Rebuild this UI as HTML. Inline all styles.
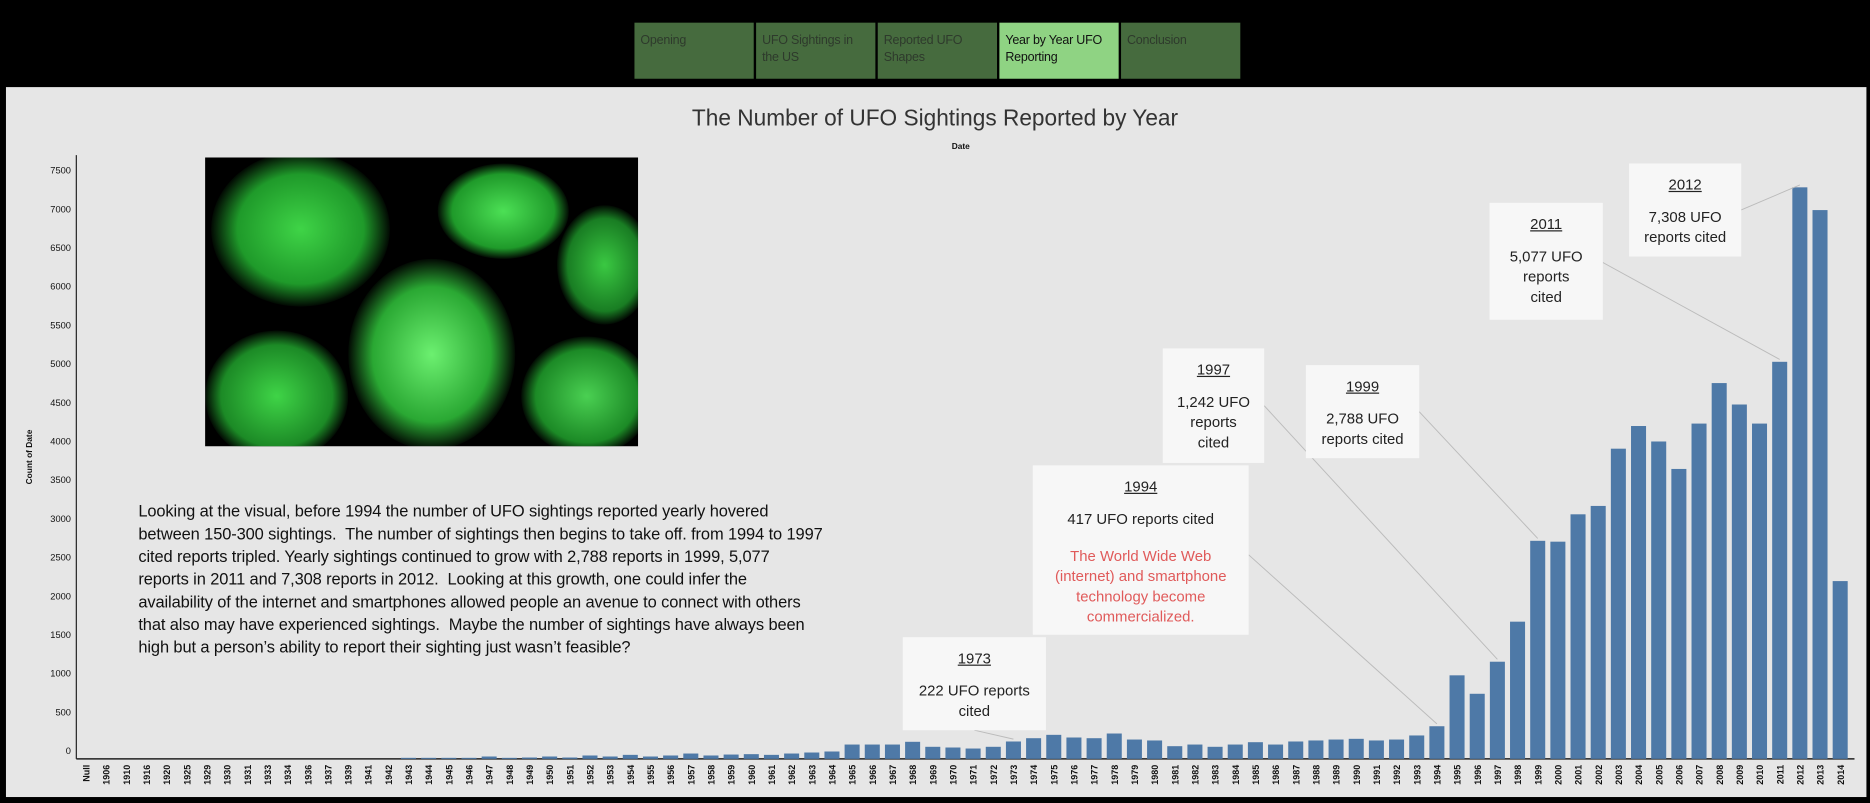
<!DOCTYPE html>
<html><head><meta charset="utf-8">
<style>
html,body{margin:0;padding:0;background:#000;width:1870px;height:803px;overflow:hidden;font-family:"Liberation Sans",sans-serif;}
#wrap{position:absolute;left:0;top:0;width:1568px;height:673px;transform:scale(1.19260,1.19316);transform-origin:0 0;}
.btn{position:absolute;top:19px;height:47px;width:100px;background:#466b3e;color:#2e3a2c;font-size:10.5px;line-height:14px;padding:8px 5px;box-sizing:border-box;letter-spacing:-0.2px;}
.btn.active{background:#8fd383;color:#111;}
#panel{position:absolute;left:5px;top:73px;width:1560px;height:595px;background:#e6e6e6;}
.box{position:absolute;background:#f7f7f7;text-align:center;font-size:12.5px;color:#222;line-height:17px;}
.box u{display:inline-block;margin-top:10px;margin-bottom:10px;}
#para{position:absolute;left:116px;top:419px;font-size:13.8px;line-height:19px;color:#111;letter-spacing:-0.1px;white-space:nowrap;}
</style></head><body>
<div id="wrap">
<div class="btn" style="left:532px">Opening</div>
<div class="btn" style="left:634px">UFO Sightings in the US</div>
<div class="btn" style="left:736px">Reported UFO Shapes</div>
<div class="btn active" style="left:838px">Year by Year UFO Reporting</div>
<div class="btn" style="left:940px">Conclusion</div>
<div id="panel"></div>
<div style="position:absolute;left:0;width:1568px;top:89px;text-align:center;font-size:19px;color:#333;">The Number of UFO Sightings Reported by Year</div>
<div style="position:absolute;left:798px;top:120px;font-size:7px;font-weight:bold;color:#111;">Date</div>
<div style="position:absolute;left:172px;top:132px;width:363px;height:242px;background:#000;overflow:hidden">
 <div style="position:absolute;left:5px;top:-5px;width:150px;height:130px;border-radius:50%;background:radial-gradient(ellipse,#3fd447 0%,#1f9a2a 50%,rgba(0,40,0,0) 72%)"></div>
 <div style="position:absolute;left:195px;top:5px;width:110px;height:80px;border-radius:50%;background:radial-gradient(ellipse,#4ce055 0%,#1f9a2a 55%,rgba(0,40,0,0) 72%)"></div>
 <div style="position:absolute;left:295px;top:40px;width:80px;height:100px;border-radius:50%;background:radial-gradient(ellipse,#3ac842 0%,#197d23 55%,rgba(0,40,0,0) 72%)"></div>
 <div style="position:absolute;left:120px;top:85px;width:140px;height:160px;border-radius:50%;background:radial-gradient(ellipse,#6cf070 0%,#2aa833 50%,rgba(0,40,0,0) 72%)"></div>
 <div style="position:absolute;left:0px;top:145px;width:120px;height:110px;border-radius:50%;background:radial-gradient(ellipse,#3fd447 0%,#1c8a26 55%,rgba(0,40,0,0) 72%)"></div>
 <div style="position:absolute;left:265px;top:150px;width:110px;height:100px;border-radius:50%;background:radial-gradient(ellipse,#4ad052 0%,#1c8a26 55%,rgba(0,40,0,0) 72%)"></div>
</div>
<div id="para">Looking at the visual, before 1994 the number of UFO sightings reported yearly hovered<br>between 150-300 sightings.&nbsp; The number of sightings then begins to take off. from 1994 to 1997<br>cited reports tripled. Yearly sightings continued to grow with 2,788 reports in 1999, 5,077<br>reports in 2011 and 7,308 reports in 2012.&nbsp; Looking at this growth, one could infer the<br>availability of the internet and smartphones allowed people an avenue to connect with others<br>that also may have experienced sightings.&nbsp; Maybe the number of sightings have always been<br>high but a person’s ability to report their sighting just wasn’t feasible?</div>
<svg id="chart" width="1568" height="673" style="position:absolute;left:0;top:0"></svg>
<div class="box" style="left:757px;top:534px;width:120px;height:78px"><u>1973</u><br>222 UFO reports<br>cited</div>
<div class="box" style="left:866px;top:390px;width:181px;height:142px"><u>1994</u><br>417 UFO reports cited<br><div style="color:#e05a5a;margin-top:14px">The World Wide Web<br>(internet) and smartphone<br>technology become<br>commercialized.</div></div>
<div class="box" style="left:975px;top:292px;width:85px;height:96px"><u>1997</u><br>1,242 UFO<br>reports<br>cited</div>
<div class="box" style="left:1095px;top:306px;width:95px;height:78px"><u>1999</u><br>2,788 UFO<br>reports cited</div>
<div class="box" style="left:1249px;top:170px;width:95px;height:98px"><u>2011</u><br>5,077 UFO<br>reports<br>cited</div>
<div class="box" style="left:1366px;top:137px;width:94px;height:78px"><u>2012</u><br>7,308 UFO<br>reports cited</div>
</div>
<script>
const categories=["Null","1906","1910","1916","1920","1925","1929","1930","1931","1933","1934","1936","1937","1939","1941","1942","1943","1944","1945","1946","1947","1948","1949","1950","1951","1952","1953","1954","1955","1956","1957","1958","1959","1960","1961","1962","1963","1964","1965","1966","1967","1968","1969","1970","1971","1972","1973","1974","1975","1976","1977","1978","1979","1980","1981","1982","1983","1984","1985","1986","1987","1988","1989","1990","1991","1992","1993","1994","1995","1996","1997","1998","1999","2000","2001","2002","2003","2004","2005","2006","2007","2008","2009","2010","2011","2012","2013","2014"];
const counts=[1,1,1,1,1,1,1,1,1,1,1,1,1,1,1,1,13,13,13,13,30,13,17,30,17,43,30,51,30,43,68,43,55,60,51,68,81,94,183,183,183,218,154,145,132,154,222,264,307,273,264,324,247,235,162,183,154,183,213,183,222,235,247,256,235,247,299,417,1068,832,1242,1754,2788,2777,3127,3234,3966,4256,4058,3707,4287,4805,4531,4287,5077,7308,7017,2273];
const yTicks=[0,500,1000,1500,2000,2500,3000,3500,4000,4500,5000,5500,6000,6500,7000,7500];
const annotated=[["1973",817,612],["1994",1047,465],["1997",1060,340],["1999",1190,345],["2011",1344,220],["2012",1460,176]];
const NS="http://www.w3.org/2000/svg";
const svg=document.getElementById('chart');
const y0=636,yScale=479/7308;
const Y=v=>y0-v*yScale;
const YL=v=>632-v*(632-145.5)/7500;
const X=i=>72+i*(1543-72)/(categories.length-1);
function mk(t,a){const e=document.createElementNS(NS,t);for(const k in a)e.setAttribute(k,a[k]);svg.appendChild(e);return e;}
let ax=mk('line',{x1:64,y1:130,x2:64,y2:y0,stroke:'#222','stroke-width':1});


let bx=mk('line',{x1:64,y1:y0,x2:1555,y2:y0,stroke:'#222','stroke-width':1.2});


yTicks.forEach(v=>{const t=mk('text',{x:59.5,y:YL(v),'text-anchor':'end','font-size':'7.8',fill:'#111','font-family':'Liberation Sans'});t.textContent=v;

});
const yl=mk('text',{x:27,y:383,'text-anchor':'middle','font-size':'7','font-weight':'bold',fill:'#111',transform:'rotate(-90 27 383)'});yl.textContent='Count of Date';


categories.forEach((c,i)=>{
 const v=counts[i];const x=X(i);
 if(v>1){const r=mk('rect',{x:x-6.3,y:Y(v),width:12.6,height:y0-Y(v),fill:'#4e79a7'});
 
 }
 const t=mk('text',{x:0,y:0,'font-size':'7.5','font-weight':'bold',fill:'#111','text-anchor':'end',transform:`translate(${x+3},${y0+5}) rotate(-90)`});
 t.textContent=c;
 
 
});
annotated.forEach(a=>{const i=categories.indexOf(a[0]);
 const l=mk('line',{x1:a[1],y1:a[2],x2:X(i),y2:Y(counts[i])-2,stroke:'#bbb','stroke-width':0.8});
 
 });
</script>
</body></html>
